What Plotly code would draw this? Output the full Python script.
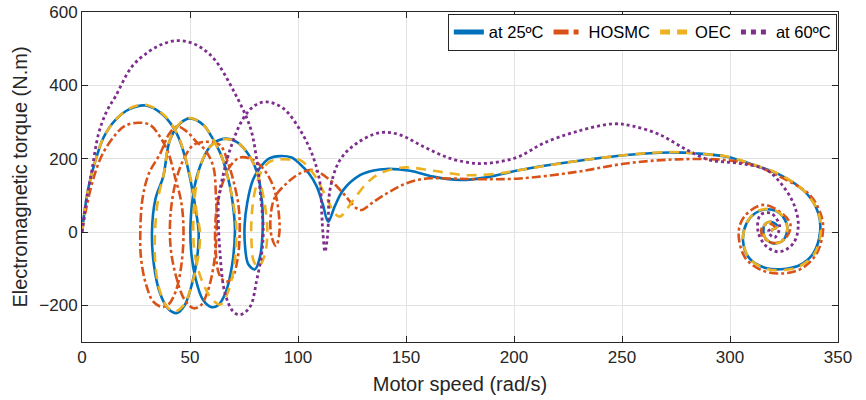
import plotly.graph_objects as go

# ---- data (speed rad/s, torque N.m) ----
blue_speed = [0, 1.5, 3.5, 6.5, 10, 15.4, 22, 29.5, 37.6, 43.8, 47.7, 50.8, 53.2, 54, 53.5, 51, 47.5, 44, 40, 36, 33.3, 32.4,
              34, 37.6, 40.7, 45.4, 50, 56.2, 60, 64.7, 68.5, 70.5, 70.8, 69.5, 66.5, 63, 60, 56, 52.5, 50.5, 50.3,
              52, 54.6, 59.3, 65.4, 71.6, 77.8, 81.6, 83.5, 83.6, 82.5, 80, 77, 75.5, 75.3, 76.5, 79, 82.4, 86.5,
              91.7, 97, 101, 105, 108.6, 111.5, 114, 117, 121, 128.7, 135, 141, 151.9, 162.6, 175, 187.4, 202.8,
              225, 252, 272, 285, 298.5, 310, 324.7, 335.5, 340.9, 341.7, 338.6, 332.4, 326, 317, 309, 306, 307.7,
              311.6, 317, 323, 326.5, 324.7, 320, 316, 316, 319, 322, 319]
blue_torque = [0, 70, 135, 200, 258, 305, 335, 345, 319, 269, 205, 124, 40, 0, -60, -140, -200, -221, -210, -165, -90, 0,
               90, 151, 251, 296, 310, 292, 260, 205, 124, 40, 0, -90, -165, -200, -205, -185, -125, -50, 30,
               120, 178, 233, 254, 246, 205, 151, 70, 0, -65, -102, -88, -40, 20, 80, 140, 175, 200,
               207, 203, 185, 160, 125, 75, 28, 70, 115, 155, 168, 172, 167, 151, 142, 149, 169,
               190, 210, 217, 214, 205, 185, 151, 105, 51, 0, -58, -90, -100, -99, -72, -22, 24,
               51, 62, 51, 15, -22, -31, -13, 20, 28, 15, 5]

red_speed = [0, 2, 5, 9.3, 15.4, 20, 26, 31.5, 36.1, 40, 43, 46, 47, 46, 43.5, 40, 37, 33, 29.5, 27.3, 27,
             28, 31, 36.3, 40.1, 44, 48.5, 53, 57, 60.8, 62, 62.3, 61, 58, 55, 51.7, 47.5, 43.5, 41, 41,
             43.5, 46.9, 51.5, 57.7, 63.9, 67.7, 70, 72.5, 73, 72, 69.5, 66.5, 63.5, 62, 61.6,
             62.5, 65.5, 69, 73.1, 78, 82, 85.5, 88.5, 90.5, 91.4, 89.8, 87.8, 87.3, 89.4, 94.8, 101, 107,
             114.8, 121, 127, 129.5, 134, 141, 150.3, 159.6, 170, 182.7, 202.8, 229, 252, 275, 298.5,
             312, 324.7, 337, 342.4, 343, 340, 333, 324.7, 315, 307, 304, 307, 315.4, 324, 328, 326,
             320, 315, 315, 319, 321, 319]
red_torque = [0, 65, 140, 210, 265, 290, 298, 292, 260, 215, 151, 80, 0, -90, -160, -198, -204, -190, -140, -70, 0,
              90, 160, 215, 265, 288, 274, 246, 224, 178, 100, 0, -90, -165, -200, -208, -185, -120, -40, 50,
              140, 196, 237, 246, 237, 187, 142, 70, 0, -75, -125, -136, -115, -60, 0,
              70, 140, 183, 203, 200, 185, 160, 125, 78, 0, -38, -13, 42, 96, 133, 160, 169,
              142, 105, 65, 60, 78, 105, 133, 146, 146, 144, 146, 164, 187, 198, 196,
              180, 146, 101, 42, 0, -60, -100, -113, -105, -70, 0, 45, 74, 51, 20, -15,
              -30, -10, 15, 22, 10, 3]

yellow_speed = [0, 1.5, 3.5, 6.5, 10, 15.4, 22, 29.5, 37.6, 43.8, 47.7, 51, 53.5, 54.6, 54, 51, 47, 43, 39.5, 36, 34, 33.8,
                35.5, 37.6, 40.7, 45.4, 50, 56.2, 60, 64.7, 68.5, 71, 71.5, 70.5, 67.5, 64, 60.5, 56, 52.5, 51.5,
                52.5, 54.6, 59.3, 65.4, 71.6, 77.8, 81.6, 84.5, 85.8, 84.5, 81.6, 79.5, 78.5, 78.5, 80, 83, 87,
                91.7, 96, 101, 107, 113, 117, 119.4, 125.6, 131.8, 138, 148.8, 162.6, 178, 193.5, 202.8,
                225, 252, 272, 285, 298.5, 310, 324.7, 335.5, 341, 342, 339, 332.4, 326, 317, 309, 306, 307.7,
                311.6, 317, 323, 326.5, 324.7, 320, 316, 316, 319, 322, 319]
yellow_torque = [0, 70, 135, 200, 258, 305, 337, 347, 321, 271, 207, 126, 40, 0, -60, -140, -200, -217, -205, -160, -90, 0,
                 100, 151, 251, 297, 311, 292, 260, 205, 124, 40, 0, -90, -165, -198, -185, -140, -70, 0,
                 110, 178, 233, 253, 246, 205, 151, 80, 0, -65, -95, -80, -30, 40, 110, 165, 192,
                 198, 198, 196, 160, 96, 51, 42, 87, 133, 160, 176, 167, 155, 160, 169,
                 190, 210, 218, 214, 206, 186, 152, 105, 51, 0, -60, -93, -103, -101, -72, -22, 24,
                 53, 63, 52, 15, -22, -31, -13, 20, 28, 15, 5]

purple_speed = [0, 2, 4.6, 7.7, 11.5, 15.4, 23.1, 30.9, 37.5, 44, 50, 55.6, 61.6, 70, 77.8, 80.9, 82.4, 83.9, 83.2,
                80.9, 77.8, 73.1, 70, 66.2, 63.9, 63.1, 63.9, 68.5, 74.7, 80, 85.5, 93.2, 101, 107, 110.2, 111,
                111.5, 112.5, 113.5, 114, 114.8, 119.4, 127.2, 138, 147.2, 158, 170.4, 182.7, 193.5, 202.8, 213.6,
                229, 246, 255, 267.6, 280, 290.7, 300, 308, 317, 324.7, 330, 331.6, 329.3, 323, 317, 313, 314,
                319, 323, 320.6, 317.7, 319]
purple_torque = [0, 85, 169, 269, 330, 369, 451, 492, 513, 522, 517, 501, 469, 387, 287, 196, 115, 5, -58,
                 -131, -204, -226, -217, -167, -58, 78, 115, 224, 310, 345, 355, 337, 278, 205, 133, 50,
                 0, -54, -20, 20, 115, 196, 242, 271, 265, 233, 201, 187, 192, 207, 242,
                 274, 295, 289, 265, 224, 196, 190, 184, 169, 124, 69, 15, -31, -54, -40, 1, 46,
                 51, 15, -15, 1, 8]

series_names = ["at 25\u00baC", "HOSMC", "OEC", "at 60\u00baC"]
x_ticks = [0, 50, 100, 150, 200, 250, 300, 350]
y_ticks = [-200, 0, 200, 400, 600]

fig = go.Figure()
styles = [
    (blue_speed, blue_torque, "#0072BD", "solid", 2.6),
    (red_speed, red_torque, "#D95319", "dashdot", 2.6),
    (yellow_speed, yellow_torque, "#EDB120", "10px,7px", 2.6),
    (purple_speed, purple_torque, "#7E2F8E", "dot", 2.8),
]
for name, (xs, ys, col, dash, w) in zip(series_names, styles):
    fig.add_trace(go.Scatter(x=xs, y=ys, mode="lines", name=name,
                             line=dict(color=col, dash=dash, width=w, shape="spline", smoothing=1.0)))

axis_common = dict(showline=True, linecolor="#262626", linewidth=1, mirror="ticks", ticks="inside",
                   ticklen=6, tickcolor="#262626", showgrid=True, gridcolor="#e3e3e3", gridwidth=1,
                   zeroline=False, automargin=False, ticklabeloverflow="allow",
                   tickfont=dict(family="Liberation Sans, Arial", size=17, color="#262626"))

fig.update_layout(
    width=866, height=400,
    margin=dict(l=82, r=28, t=12, b=58),
    plot_bgcolor="white", paper_bgcolor="white",
    font=dict(family="Liberation Sans, Arial", color="#262626"),
    xaxis=dict(range=[0, 350], tickvals=x_ticks,
               title=dict(text="Motor speed (rad/s)", font=dict(size=20), standoff=10), **axis_common),
    yaxis=dict(range=[-300, 600], tickvals=y_ticks,
               title=dict(text="Electromagnetic torque (N.m)", font=dict(size=20), standoff=6), **axis_common),
    legend=dict(orientation="h", x=0.9985, xanchor="right", y=0.995, yanchor="top",
                bgcolor="white", bordercolor="#262626", borderwidth=1,
                font=dict(size=16.5, color="#000000"), itemwidth=30, tracegroupgap=0,
                itemsizing="constant"),
    showlegend=True,
)

# remove the default page margin so the 866x400 figure fills the window exactly
fig.write_html("out.html", config={"displayModeBar": False},
               post_script="document.body.style.margin='0px';")
